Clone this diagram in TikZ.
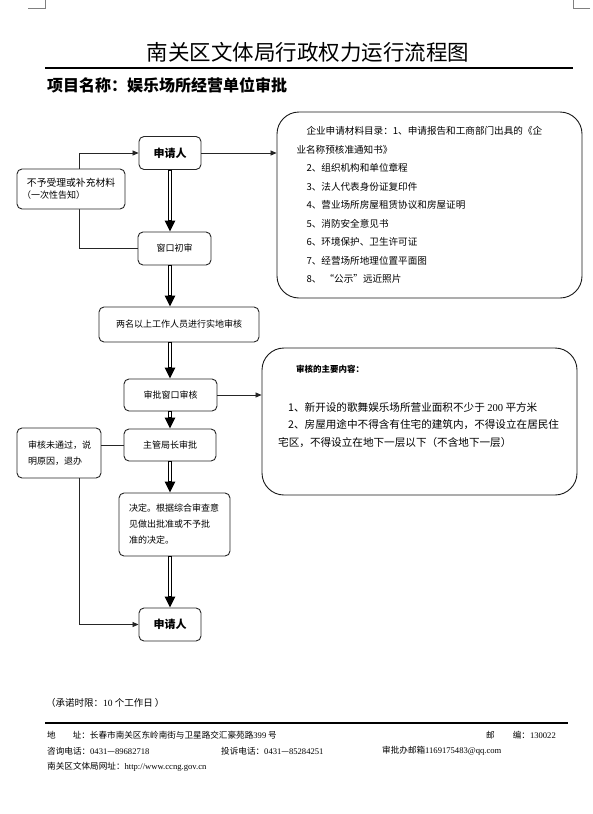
\documentclass[tikz,border=0pt]{standalone}
\usepackage{fontspec}
\setmainfont{Noto Sans CJK SC}
\newfontfamily\lat{Liberation Serif}
\usetikzlibrary{arrows.meta}
\newcommand{\fs}[2]{\fontsize{#1pt}{#2pt}\selectfont}
\begin{document}
\begin{tikzpicture}[x=1pt,y=-1pt,
  box/.style={draw=black!85, line width=0.9pt, rounded corners=5pt, fill=white, inner sep=0pt, align=center},
  bigbox/.style={draw=black!90, line width=0.9pt, rounded corners=22pt, fill=white, inner sep=0pt},
  thinline/.style={line width=0.7pt, draw=black!85},
  tip/.style={-{Triangle[width=5pt,length=6pt]}},
  dbl/.style={line width=3.6pt, -{Triangle[width=10pt,length=11pt]},
    postaction={draw=white, line width=1.8pt, -, shorten >=12pt, shorten <=0.6pt}},
  lbl/.style={inner sep=0pt}
]
\fill[white] (0,0) rectangle (593,814);
\useasboundingbox (0,0) rectangle (593,814);

% corner marks
\draw[black!50, line width=0.6pt] (28,8) -- (45,8) -- (45,0);
\draw[black!50, line width=0.6pt] (590,8) -- (573,8) -- (573,0);

% title
\node[lbl, font=\fs{21.5}{24}] (title) at (308,52) {南关区文体局行政权力运行流程图};
\draw[line width=1.2pt] (45,68) -- (573,68);
\node[lbl, anchor=west, font=\bfseries\fs{16}{18}] (proj) at (47,85) {项目名称：娱乐场所经营单位审批};

% main column
\node[box, minimum width=62pt, minimum height=33pt, font=\bfseries\fs{11}{13}] (app1) at (170,153) {申请人};
\node[box, minimum width=73pt, minimum height=33pt, font=\fs{9}{11}] (win) at (174.5,248.5) {窗口初审};
\node[box, minimum width=160pt, minimum height=35pt, font=\fs{9}{11}] (site) at (179,324.5) {两名以上工作人员进行实地审核};
\node[box, minimum width=93pt, minimum height=32pt, font=\fs{9}{11}] (apprwin) at (170.5,395) {审批窗口审核};
\node[box, minimum width=92pt, minimum height=32pt, font=\fs{9}{11}] (chief) at (170,445) {主管局长审批};
\node[box, minimum width=111pt, minimum height=63pt, text width=91pt, align=left, font=\fs{9}{16}] (decide) at (174.5,524.5) {决定。根据综合审查意\\见做出批准或不予批\\准的决定。};
\node[box, minimum width=62pt, minimum height=33pt, font=\bfseries\fs{11}{13}] (app2) at (170,624.5) {申请人};

% right boxes
\node[bigbox, minimum width=305pt, minimum height=186pt, text width=266pt, inner xsep=19.5pt, align=left, font=\fs{9.6}{18.5}] (mat) at (429.5,205) {\hspace*{10pt}企业申请材料目录：1、申请报告和工商部门出具的《企\\业名称预核准通知书》\\\hspace*{10pt}2、组织机构和单位章程\\\hspace*{10pt}3、法人代表身份证复印件\\\hspace*{10pt}4、营业场所房屋租赁协议和房屋证明\\\hspace*{10pt}5、消防安全意见书\\\hspace*{10pt}6、环境保护、卫生许可证\\\hspace*{10pt}7、经营场所地理位置平面图\\\hspace*{10pt}8、 “公示”远近照片};
\node[bigbox, minimum width=315pt, minimum height=147pt] (rev) at (419.5,421.5) {};
\node[lbl, anchor=west, font=\bfseries\fs{8.5}{10}] (revh) at (296,369) {审核的主要内容：};
\node[lbl, anchor=north west, align=left, font=\fs{10.6}{17.5}] (revb) at (278,402) {\hspace*{10pt}1、新开设的歌舞娱乐场所营业面积不少于 {\lat 200} 平方米\\\hspace*{10pt}2、房屋用途中不得含有住宅的建筑内，不得设立在居民住\\宅区，不得设立在地下一层以下（不含地下一层）};

% connectors
\coordinate (fbx) at (79,0);
\draw[thinline, tip] (win.west) -- (win.west -| fbx) -- (fbx |- app1.west) -- (app1.west);
\node[box, minimum width=108pt, minimum height=40pt, text width=98pt, align=left] (rej) at (71,189) {{\fs{9.8}{14}\hspace*{5pt}不予受理或补充材料}\\{\fs{9}{14}（一次性告知）}};

\draw[thinline, tip] (app1.east) -- (app1.east -| mat.west);
\draw[thinline, tip] (apprwin.east) -- (apprwin.east -| rev.west);

\node[box, minimum width=84pt, minimum height=50pt, text width=62pt, align=left, font=\fs{9}{16}] (fail) at (59,453) {审核未通过，说\\明原因，退办};
\draw[thinline] (chief.west) -- (chief.west -| fail.east);
\draw[thinline, tip] (fbx |- fail.south) -- (fbx |- app2.west) -- (app2.west);

\draw[dbl] (app1.south) -- (app1.south |- win.north);
\draw[dbl] (app1.south |- win.south) -- (app1.south |- site.north);
\draw[dbl] (app1.south |- site.south) -- (app1.south |- apprwin.north);
\draw[dbl] (app1.south |- apprwin.south) -- (app1.south |- chief.north);
\draw[dbl] (app1.south |- chief.south) -- (app1.south |- decide.north);
\draw[dbl] (app1.south |- decide.south) -- (app2.north);

% footer
\node[lbl, anchor=west, font=\fs{9.5}{11}] (limit) at (46,703) {（承诺时限：{\lat 10} 个工作日 ）};
\draw[line width=2pt] (45,723) -- (568,723);
\node[lbl, anchor=west, font=\fs{8.6}{10}] (addr) at (47,735) {地\hspace*{17pt}址：长春市南关区东岭南街与卫星路交汇豪苑路{\lat 399} 号};
\node[lbl, anchor=west, font=\fs{8.6}{10}] (zip) at (486,735) {邮\hspace*{18pt}编：{\lat 130022}};
\node[lbl, anchor=west, font=\fs{8.6}{10}] (tel1) at (47,751) {咨询电话：{\lat 0431}—{\lat 89682718}};
\node[lbl, anchor=west, font=\fs{8.6}{10}] (tel2) at (221,751) {投诉电话：{\lat 0431}—{\lat 85284251}};
\node[lbl, anchor=west, font=\fs{8.6}{10}] (mail) at (382,751) {审批办邮箱{\lat 1169175483@qq.com}};
\node[lbl, anchor=west, font=\fs{8.6}{10}] (web) at (47,767) {南关区文体局网址：{\lat http://www.ccng.gov.cn}};
\end{tikzpicture}
\end{document}
